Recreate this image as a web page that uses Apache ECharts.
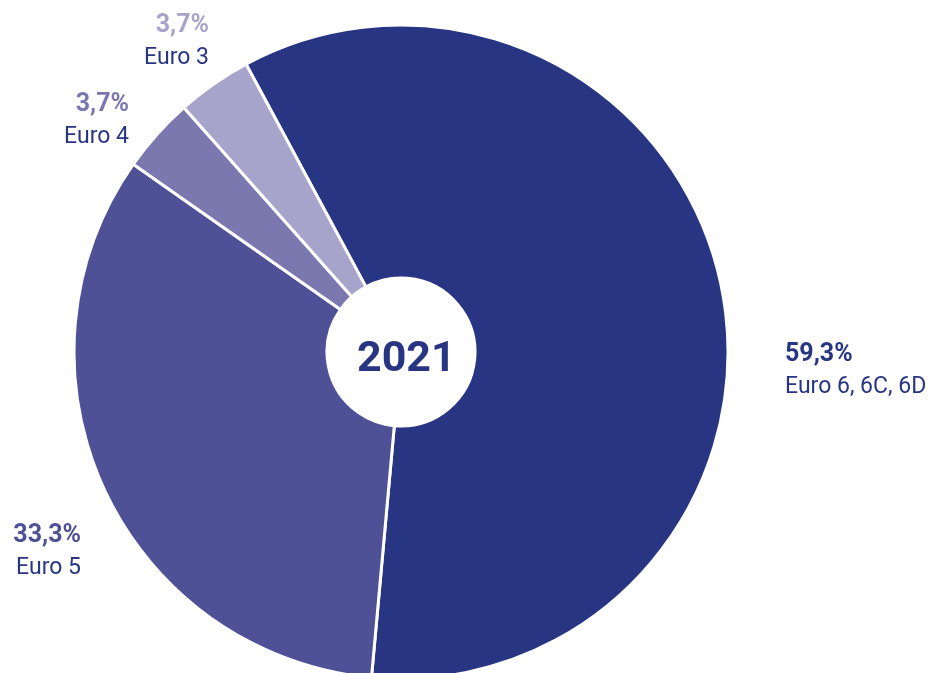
<!DOCTYPE html>
<html>
<head>
<meta charset="utf-8">
<script src="https://cdn.jsdelivr.net/npm/echarts@6/dist/echarts.min.js"></script>
<style>
html,body{margin:0;padding:0;background:#fff;}
#chart{width:929px;height:673px;}
</style>
</head>
<body>
<div id="chart"></div>
<script>
const categories = ['Euro 6, 6C, 6D', 'Euro 5', 'Euro 4', 'Euro 3'];
const values = [59.3, 33.3, 3.7, 3.7];
const percentLabels = ['59,3%', '33,3%', '3,7%', '3,7%'];
const colors = ['#283583', '#4f5196', '#7a78ae', '#a7a4cc'];
const centerLabel = '2021';

const navy = '#283583';
const FONT = 'Roboto, "Open Sans", sans-serif';

// label layout per slice (pixel anchor, alignment)
const labelPos = [
  {x: 785, y: 371, align: 'left'},
  {x: 81, y: 552, align: 'right'},
  {x: 129, y: 121, align: 'right'},
  {x: 209, y: 42, align: 'right'}
];

const chart = echarts.init(document.getElementById('chart'), null, {renderer: 'canvas'});
const data = categories.map((c, i) => ({
  name: c,
  value: values[i],
  itemStyle: {color: colors[i]},
  label: {
    align: labelPos[i].align,
    rich: {
      p: {fontFamily: FONT, fontWeight: 'bold', fontSize: 25, color: colors[i], lineHeight: 32, align: labelPos[i].align},
      n: {fontFamily: FONT, fontSize: 23, color: navy, lineHeight: 32, align: labelPos[i].align}
    }
  }
}));

chart.setOption({
  animation: false,
  backgroundColor: '#ffffff',
  graphic: [{
    type: 'text',
    left: 357,
    top: 339,
    style: {
      text: centerLabel,
      fontFamily: FONT,
      fontWeight: 'bold',
      fontSize: 43,
      fill: navy
    }
  }],
  series: [{
    type: 'pie',
    center: [401, 352],
    radius: [74, 327],
    startAngle: 118.3,
    clockwise: true,
    avoidLabelOverlap: false,
    itemStyle: {borderColor: '#ffffff', borderWidth: 3},
    label: {
      show: true,
      position: 'outside',
      formatter: (p) => '{p|' + percentLabels[p.dataIndex] + '}\n{n|' + p.name + '}'
    },
    labelLine: {show: false},
    labelLayout: (params) => {
      const lp = labelPos[params.dataIndex];
      return {x: lp.x, y: lp.y, align: lp.align, verticalAlign: 'middle', hideOverlap: false};
    },
    emphasis: {disabled: true},
    data: data
  }]
});
</script>
</body>
</html>
